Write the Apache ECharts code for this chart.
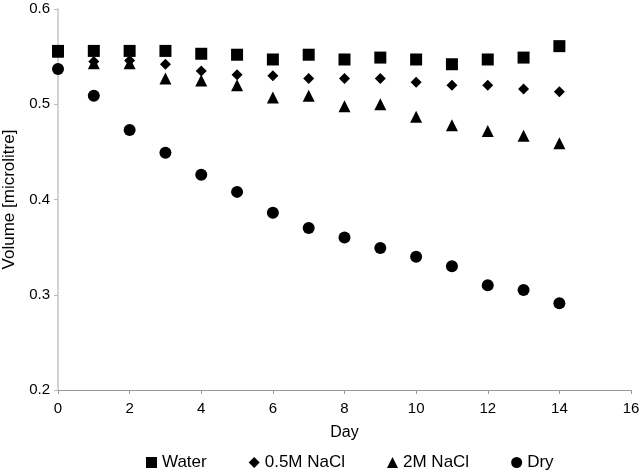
<!DOCTYPE html>
<html>
<head>
<meta charset="utf-8">
<script src="https://cdn.jsdelivr.net/npm/echarts@6/dist/echarts.min.js"></script>
<style>
  html, body { margin: 0; padding: 0; background: #ffffff; }
  #chart { width: 640px; height: 472px; }
</style>
</head>
<body>
<div id="chart"></div>
<script>
// days on the x axis
var days = [0, 1, 2, 3, 4, 5, 6, 7, 8, 9, 10, 11, 12, 13, 14];

// volume readings (microlitre)
var water  = [0.556, 0.556, 0.556, 0.556, 0.553, 0.552, 0.547, 0.552, 0.547, 0.549, 0.547, 0.542, 0.547, 0.549, 0.561];
var nacl05 = [0.555, 0.545, 0.546, 0.542, 0.535, 0.531, 0.530, 0.527, 0.527, 0.527, 0.523, 0.520, 0.520, 0.516, 0.513];
var nacl2  = [0.555, 0.543, 0.543, 0.527, 0.525, 0.520, 0.507, 0.509, 0.498, 0.500, 0.487, 0.478, 0.472, 0.467, 0.459];
var dry    = [0.537, 0.509, 0.473, 0.449, 0.426, 0.408, 0.386, 0.370, 0.360, 0.349, 0.340, 0.330, 0.310, 0.305, 0.291];

var seriesNames = ['Water', '0.5M NaCl', '2M NaCl', 'Dry'];

function pairs(arr) {
  return days.map(function (d, i) { return [d, arr[i]]; });
}

var font = 'Liberation Sans, Arial, sans-serif';

var myChart = echarts.init(document.getElementById('chart'));
var option = {
  animation: false,
  backgroundColor: '#ffffff',
  grid: {
    left: 58,
    right: 9,
    top: 9,
    bottom: 82,
    containLabel: false,
    outerBoundsMode: 'none'
  },
  legend: {
    data: [
      { name: 'Water', icon: 'rect' },
      { name: '0.5M NaCl', icon: 'diamond' },
      { name: '2M NaCl', icon: 'triangle' },
      { name: 'Dry', icon: 'circle' }
    ],
    top: 449,
    left: 141,
    itemWidth: 11,
    itemHeight: 11,
    itemGap: 42,
    textStyle: { color: '#000', fontSize: 17, fontFamily: font },
    itemStyle: { opacity: 1 }
  },
  xAxis: {
    type: 'value',
    min: 0,
    max: 16,
    interval: 2,
    name: 'Day',
    nameLocation: 'middle',
    nameGap: 35,
    nameTextStyle: { color: '#000', fontSize: 16, fontFamily: font },
    axisLine: { lineStyle: { color: '#999' } },
    axisTick: { length: 4, lineStyle: { color: '#999' } },
    axisLabel: { color: '#000', fontSize: 15, fontFamily: font, margin: 11 },
    splitLine: { show: false }
  },
  yAxis: {
    type: 'value',
    min: 0.2,
    max: 0.6,
    interval: 0.1,
    name: 'Volume [microlitre]',
    nameLocation: 'middle',
    nameGap: 40,
    nameTextStyle: { color: '#000', fontSize: 17, fontFamily: font },
    axisLine: { show: true, lineStyle: { color: '#d4d4d4', width: 2 } },
    axisTick: { show: true, length: 4, lineStyle: { color: '#bbb' } },
    axisLabel: { color: '#000', fontSize: 15, fontFamily: font, margin: 8,
      formatter: function (v) { return v.toFixed(1); } },
    splitLine: { show: false }
  },
  series: [
    { name: seriesNames[0], type: 'scatter', symbol: 'rect', symbolSize: 12,
      itemStyle: { color: '#000', opacity: 1 }, data: pairs(water) },
    { name: seriesNames[1], type: 'scatter', symbol: 'diamond', symbolSize: 11,
      itemStyle: { color: '#000', opacity: 1 }, data: pairs(nacl05) },
    { name: seriesNames[2], type: 'scatter', symbol: 'triangle', symbolSize: 12,
      itemStyle: { color: '#000', opacity: 1 }, data: pairs(nacl2) },
    { name: seriesNames[3], type: 'scatter', symbol: 'circle', symbolSize: 12,
      itemStyle: { color: '#000', opacity: 1 }, data: pairs(dry) }
  ]
};
myChart.setOption(option, true);
</script>
</body>
</html>
